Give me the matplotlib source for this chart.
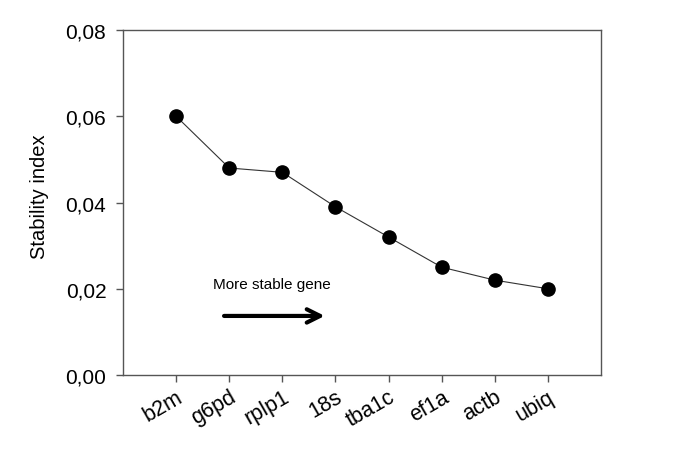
import matplotlib
matplotlib.use("Agg")
import matplotlib.pyplot as plt

# Données
genes = ['b2m', 'g6pd', 'rplp1', '18s', 'tba1c', 'ef1a', 'actb', 'ubiq']
stability = [0.060, 0.048, 0.047, 0.039, 0.032, 0.025, 0.022, 0.020]
yticks = [0.00, 0.02, 0.04, 0.06, 0.08]

plt.rcParams['font.family'] = ['Liberation Sans', 'DejaVu Sans']

fig = plt.figure(figsize=(6.85, 4.56), dpi=100)
ax = fig.add_axes([0.1796, 0.1754, 0.6978, 0.7566])

x = list(range(1, len(genes) + 1))
ax.plot(x, stability, color='#333333', lw=0.8, marker='o', ms=9.5,
        mfc='black', mec='black', zorder=3)

ax.set_xlim(0, 9)
ax.set_ylim(0, 0.08)
ax.set_xticks(x)
ax.set_xticklabels(genes, rotation=30, ha='right', rotation_mode='anchor', fontsize=15.5)
ax.set_yticks(yticks)
ax.set_yticklabels([f"{v:.2f}".replace('.', ',') for v in yticks], fontsize=15)
ax.set_ylabel('Stability index', fontsize=14.5)
ax.yaxis.set_label_coords(-0.155, 0.52)

for s in ax.spines.values():
    s.set_color('#555555')
    s.set_linewidth(1.0)
ax.tick_params(direction='out', length=5, color='#555555', width=1)
ax.tick_params(axis='x', pad=3)
ax.tick_params(axis='y', pad=7)

# Flèche "More stable gene"
ax.annotate('', xy=(3.85, 0.0137), xytext=(1.85, 0.0137),
            arrowprops=dict(arrowstyle='->', lw=3, color='black',
                            mutation_scale=24))
ax.text(2.8, 0.0211, 'More stable gene', fontsize=11, ha='center', va='center')

fig.savefig('out.png', dpi=100)
